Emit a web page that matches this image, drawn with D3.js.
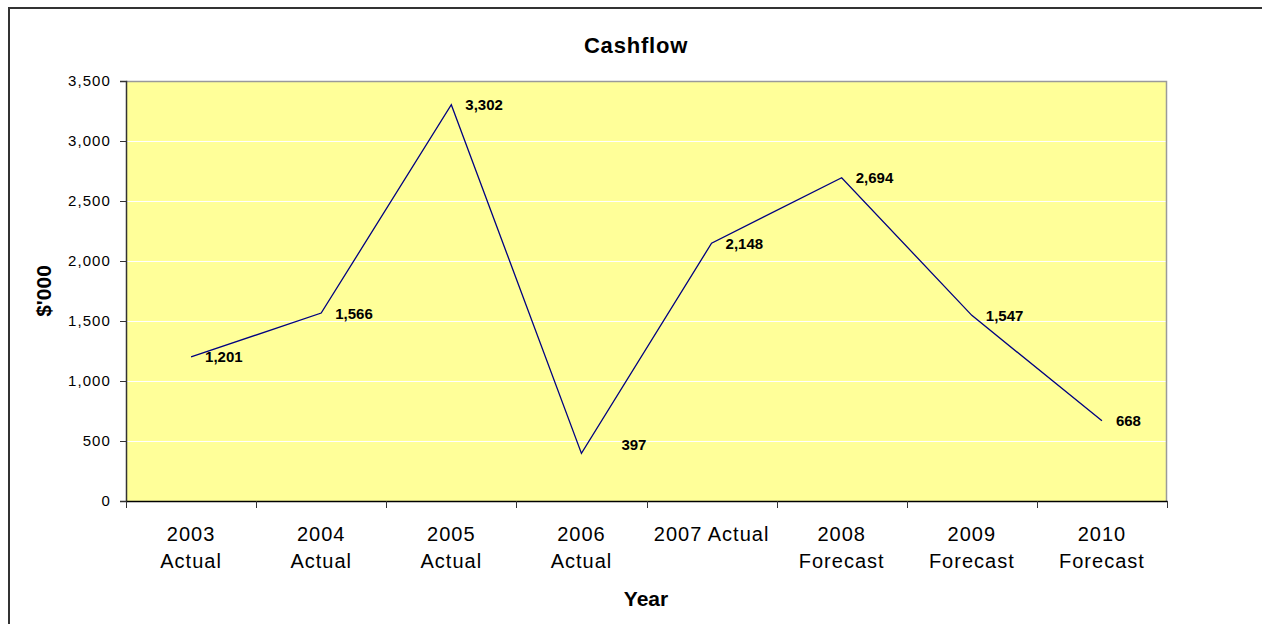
<!DOCTYPE html>
<html>
<head>
<meta charset="utf-8">
<script src="https://cdn.jsdelivr.net/npm/d3@7"></script>
<style>
  body { margin: 0; background: #fff; }
  svg { display: block; font-family: Arial, "Liberation Sans", sans-serif; }
</style>
</head>
<body>
<div id="chart"></div>
<script>
/* DATA */
const categories = ["2003 Actual", "2004 Actual", "2005 Actual", "2006 Actual",
                    "2007 Actual", "2008 Forecast", "2009 Forecast", "2010 Forecast"];
// how each category label is broken over lines on the axis
const categoryLines = [["2003", "Actual"], ["2004", "Actual"], ["2005", "Actual"], ["2006", "Actual"],
                       ["2007 Actual"], ["2008", "Forecast"], ["2009", "Forecast"], ["2010", "Forecast"]];
const cashflow = [1201, 1566, 3302, 397, 2148, 2694, 1547, 668];
const yTicks = [0, 500, 1000, 1500, 2000, 2500, 3000, 3500];

/* CONSTANTS */
const width = 1262, height = 624;
const plot = {left: 126, right: 1167, top: 81, bottom: 501};

const svg = d3.select("#chart").append("svg")
  .attr("width", width)
  .attr("height", height);

// outer chart border (only top + left visible in window)
svg.append("rect")
  .attr("x", 9).attr("y", 8)
  .attr("width", 1300).attr("height", 700)
  .attr("fill", "#fff")
  .attr("stroke", "#333")
  .attr("stroke-width", 2);

/* SCALES */
const xScale = d3.scaleBand()
  .domain(categories)
  .range([plot.left, plot.right]);

const yScale = d3.scaleLinear()
  .domain([0, 3500])
  .range([plot.bottom, plot.top]);

// plot area
svg.append("rect")
  .attr("x", plot.left).attr("y", plot.top)
  .attr("width", plot.right - plot.left)
  .attr("height", plot.bottom - plot.top)
  .attr("fill", "#FFFF99");

// gridlines
svg.append("g")
  .selectAll("line")
  .data(yTicks.filter(d => d > 0 && d < 3500))
  .join("line")
  .attr("x1", plot.left).attr("x2", plot.right)
  .attr("y1", d => Math.round(yScale(d)) + 0.5)
  .attr("y2", d => Math.round(yScale(d)) + 0.5)
  .attr("stroke", "#fff")
  .attr("stroke-width", 1);

// top + right border of plot area
svg.append("path")
  .attr("d", `M${plot.left},${plot.top + 0.5}H${plot.right - 0.5}V${plot.bottom}`)
  .attr("fill", "none")
  .attr("stroke", "#9a9a9a")
  .attr("stroke-width", 1.5);

/* AXES */
const yAxis = d3.axisLeft(yScale)
  .tickValues(yTicks)
  .tickSize(6)
  .tickPadding(9)
  .tickFormat(d3.format(","));

const yAxisGroup = svg.append("g")
  .attr("transform", `translate(${plot.left},0)`)
  .call(yAxis);
yAxisGroup.select(".domain").attr("stroke", "#333").attr("stroke-width", 1.5);
yAxisGroup.selectAll(".tick line").attr("stroke", "#333");
yAxisGroup.selectAll("text")
  .attr("font-size", 15)
  .attr("letter-spacing", "1.1px")
  .attr("fill", "#000")
  .attr("font-family", "Arial, 'Liberation Sans', sans-serif");

const xAxis = d3.axisBottom(xScale)
  .tickSize(0)
  .tickPadding(0);

const xAxisGroup = svg.append("g")
  .attr("transform", `translate(0,${plot.bottom})`)
  .call(xAxis);
xAxisGroup.select(".domain").attr("stroke", "#000").attr("stroke-width", 1.5);
xAxisGroup.selectAll(".tick text")
  .attr("font-size", 20)
  .attr("letter-spacing", "1px")
  .attr("fill", "#000")
  .attr("font-family", "Arial, 'Liberation Sans', sans-serif")
  .attr("dy", null)
  .attr("y", 0)
  .text(null)
  .each(function(d, i) {
    d3.select(this).selectAll("tspan")
      .data(categoryLines[i])
      .join("tspan")
      .attr("x", 0)
      .attr("y", (t, j) => 40 + j * 27)
      .text(t => t);
  });

// category boundary ticks
const boundaries = categories.map(c => xScale(c)).concat([xScale.range()[1]]);
xAxisGroup.append("g")
  .selectAll("line")
  .data(boundaries)
  .join("line")
  .attr("x1", d => Math.round(d) + 0.5)
  .attr("x2", d => Math.round(d) + 0.5)
  .attr("y1", 0).attr("y2", 7)
  .attr("stroke", "#333");

/* LINE */
const lineGen = d3.line()
  .x((d, i) => xScale(categories[i]) + xScale.bandwidth() / 2)
  .y(d => yScale(d));

svg.append("path")
  .datum(cashflow)
  .attr("d", lineGen)
  .attr("fill", "none")
  .attr("stroke", "#000080")
  .attr("stroke-width", 1.3);

// data labels (the 2006 label was dragged off its default spot)
const labelNudge = {3: [26, -9]};
svg.append("g")
  .selectAll("text")
  .data(cashflow)
  .join("text")
  .attr("x", (d, i) => xScale(categories[i]) + xScale.bandwidth() / 2 + 14 + (labelNudge[i] ? labelNudge[i][0] : 0))
  .attr("y", (d, i) => yScale(d) + 5.5 + (labelNudge[i] ? labelNudge[i][1] : 0))
  .attr("font-size", 15)
  .attr("font-weight", "bold")
  .attr("fill", "#000")
  .text(d => d3.format(",")(d));

/* TITLES */
svg.append("text")
  .attr("x", 636).attr("y", 53)
  .attr("text-anchor", "middle")
  .attr("font-size", 22)
  .attr("font-weight", "bold")
  .attr("letter-spacing", "0.8px")
  .text("Cashflow");

svg.append("text")
  .attr("x", 646).attr("y", 606)
  .attr("text-anchor", "middle")
  .attr("font-size", 21)
  .attr("font-weight", "bold")
  .text("Year");

svg.append("text")
  .attr("transform", `translate(51,${(plot.top + plot.bottom) / 2}) rotate(-90)`)
  .attr("text-anchor", "middle")
  .attr("font-size", 21)
  .attr("font-weight", "bold")
  .text("$'000");
</script>
</body>
</html>
